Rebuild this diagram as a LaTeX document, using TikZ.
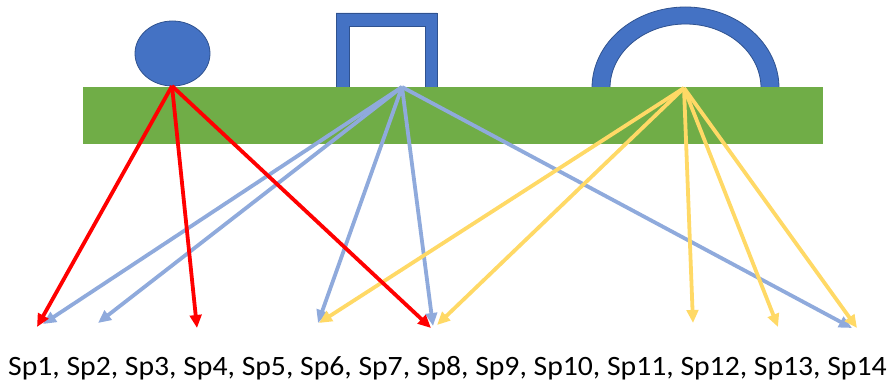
\documentclass[tikz,border=0pt]{standalone}
\usepackage{fontspec}
\setmainfont{Carlito}
\usetikzlibrary{arrows.meta}
\definecolor{barGreen}{HTML}{70AD47}
\definecolor{shapeBlue}{HTML}{4472C4}
\definecolor{edgeBlue}{HTML}{2F528F}
\definecolor{lineRed}{HTML}{FF0000}
\definecolor{lineBlue}{HTML}{8FAADC}
\definecolor{lineGold}{HTML}{FFD966}
\tikzset{
  solid shape/.style={fill=shapeBlue, draw=edgeBlue, line width=0.8pt},
  link/.style={line width=3.8pt, -{Triangle[length=13pt,width=11.5pt]}},
  redlink/.style={link, draw=lineRed},
  bluelink/.style={link, draw=lineBlue},
  goldlink/.style={link, draw=lineGold},
}
\begin{document}
\begin{tikzpicture}[x=1pt, y=-1pt]
\useasboundingbox (0,0) rectangle (890,382);

% objects sitting on the bar
\path[solid shape] (172.5,53.5) ellipse [x radius=37.5, y radius=32.5];
\path[solid shape] (336,88) -- (336,13) -- (437,13) -- (437,88) -- (425,88)
  -- (425,26) -- (349,26) -- (349,88) -- cycle;
\path[solid shape] (592,88) arc[start angle=180, end angle=360, x radius=93.5, y radius=81]
  -- (761,88) arc[start angle=0, end angle=-180, x radius=75.5, y radius=64] -- cycle;

% the bar
\fill[barGreen] (83,87) rectangle (823,144);

% sources
\coordinate (sRed) at (172,86);
\coordinate (sBlue) at (402,87);
\coordinate (sGold) at (684,88);

% targets
\coordinate (r1) at (37,327);
\coordinate (r2) at (197,328);
\coordinate (r3) at (431,328);
\coordinate (b1) at (43,324);
\coordinate (b2) at (98,323);
\coordinate (b3) at (318,323);
\coordinate (b4) at (433,326);
\coordinate (b5) at (852,328);
\coordinate (g1) at (319,323);
\coordinate (g2) at (437,325);
\coordinate (g3) at (693,323);
\coordinate (g4) at (778,327);
\coordinate (g5) at (857,328);

\foreach \t in {b1,b2,b3,b4,b5} \draw[bluelink] (sBlue) -- (\t);
\foreach \t in {g1,g2,g3,g4,g5} \draw[goldlink] (sGold) -- (\t);
\foreach \t in {r1,r2,r3} \draw[redlink] (sRed) -- (\t);

\node[anchor=base, inner sep=0pt, xscale=1.06, font=\fontsize{28}{33}\selectfont] (species) at (447.5,375)
  {Sp1, Sp2, Sp3, Sp4, Sp5, Sp6, Sp7, Sp8, Sp9, Sp10, Sp11, Sp12, Sp13, Sp14};
\end{tikzpicture}
\end{document}
